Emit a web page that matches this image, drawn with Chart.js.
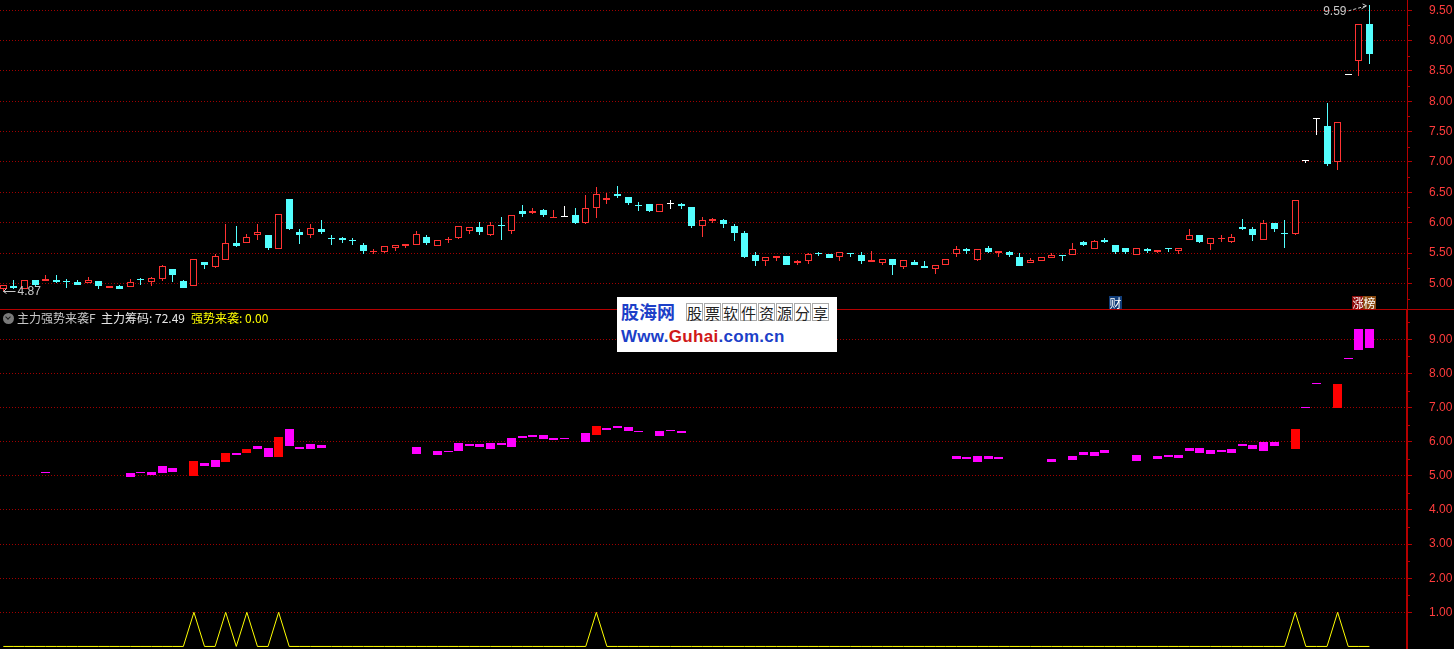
<!DOCTYPE html>
<html lang="zh-CN">
<head>
<meta charset="UTF-8">
<title>主力强势来袭F</title>
<script src="https://cdn.jsdelivr.net/npm/chart.js"></script>
<style>
  html, body { margin: 0; padding: 0; background: #000; }
  body { width: 1454px; height: 649px; position: relative; overflow: hidden; font-family: "Noto Sans CJK SC", "Liberation Sans", sans-serif; }
  #topBox { position: absolute; left: 0; top: 0; width: 1454px; height: 309px; }
  #botBox { position: absolute; left: 0; top: 310px; width: 1454px; height: 339px; }
  #sep { position: absolute; left: 0; top: 309px; width: 1454px; height: 1px; background: #b40000; }
  #hdr span { position: absolute; top: 310px; font-size: 12px; line-height: 16px; white-space: nowrap; }
  #hdr .ico { left: 3px; top: 313px; width: 11px; height: 11px; border-radius: 50%; background: #7a7a7a; }
  #hdr .ico:after { content: ""; position: absolute; left: 3px; top: 2px; width: 3px; height: 3px; border-right: 1.5px solid #1a1a1a; border-bottom: 1.5px solid #1a1a1a; transform: rotate(45deg); }
  #hdr .t1 { left: 17px; color: #c8c8c8; }
  #hdr .t2 { left: 101px; color: #e6e6e6; }
  #hdr .t3 { left: 191px; color: #ffff00; }
  #wm { position: absolute; left: 617px; top: 297px; width: 220px; height: 55px; background: #fff; }
  #wm .logo { position: absolute; left: 4px; top: 3px; font: bold 18px "Noto Sans CJK SC", sans-serif; color: #1c3fc8; line-height: 22px; }
  #wm .boxes { position: absolute; left: 69px; top: 6px; display: flex; }
  #wm .boxes i { font-style: normal; display: block; width: 17px; height: 18px; margin-right: 1px; border: 1px solid #aaa; font-size: 15px; line-height: 18px; text-align: center; color: #222; box-sizing: border-box; }
  #wm .url { position: absolute; left: 4px; top: 29px; font: bold 17px "Liberation Sans", Arial, sans-serif; color: #1c3fc8; line-height: 22px; letter-spacing: 0.3px; }
  #wm .url b { color: #d01818; }
</style>
</head>
<body>
<div id="topBox"><canvas id="kline"></canvas></div>
<div id="sep"></div>
<div id="botBox"><canvas id="chips"></canvas></div>
<div id="hdr">
  <span class="ico"></span><span class="t1">主力强势来袭F</span><span class="t2">主力筹码: 72.49</span><span class="t3">强势来袭: 0.00</span>
</div>
<div id="wm">
  <span class="logo">股海网</span>
  <span class="boxes"><i>股</i><i>票</i><i>软</i><i>件</i><i>资</i><i>源</i><i>分</i><i>享</i></span>
  <span class="url">Www.<b>Guhai</b>.com.cn</span>
</div>
<script>
// daily candles, index 0..129 (left to right)
const OPEN = [
  4.91,4.96,4.90,5.05,5.04,5.06,5.04,5.02,5.00,5.04,
  4.92,4.95,4.94,5.07,5.02,5.07,5.24,5.04,4.96,5.35,
  5.27,5.39,5.66,5.67,5.79,5.80,5.57,6.39,5.85,5.80,
  5.90,5.74,5.75,5.70,5.64,5.51,5.52,5.59,5.62,5.64,
  5.77,5.61,5.71,5.74,5.87,5.93,5.80,5.95,5.86,6.19,
  6.16,6.21,6.07,6.09,6.13,6.00,6.24,6.38,6.47,6.43,
  6.29,6.31,6.18,6.31,6.30,6.26,5.94,6.03,6.04,5.94,
  5.83,5.47,5.36,5.41,5.45,5.33,5.37,5.49,5.48,5.43,
  5.50,5.46,5.35,5.34,5.40,5.27,5.35,5.29,5.24,5.31,
  5.49,5.56,5.39,5.58,5.50,5.52,5.43,5.33,5.37,5.41,
  5.46,5.46,5.68,5.57,5.72,5.63,5.58,5.46,5.56,5.51,
  5.59,5.54,5.72,5.80,5.65,5.73,5.68,5.93,5.90,5.72,
  5.99,5.83,5.82,7.02,7.71,7.60,7.00,8.43,8.67,9.27
];
const CLOSE = [
  4.97,4.93,5.05,4.97,5.07,5.03,5.03,4.98,5.05,4.96,
  4.95,4.91,5.03,5.06,5.08,5.28,5.13,4.93,5.40,5.30,
  5.45,5.66,5.62,5.77,5.84,5.59,6.14,5.90,5.80,5.91,
  5.84,5.73,5.72,5.69,5.53,5.54,5.61,5.63,5.65,5.82,
  5.66,5.72,5.72,5.95,5.93,5.85,5.96,5.94,6.12,6.15,
  6.20,6.12,6.09,6.09,6.00,6.24,6.47,6.41,6.44,6.33,
  6.28,6.20,6.30,6.31,6.27,5.95,6.04,6.06,5.98,5.83,
  5.44,5.37,5.43,5.45,5.31,5.36,5.48,5.48,5.42,5.52,
  5.48,5.37,5.38,5.40,5.31,5.38,5.31,5.26,5.30,5.40,
  5.57,5.53,5.57,5.52,5.53,5.46,5.29,5.38,5.44,5.47,
  5.45,5.57,5.64,5.69,5.68,5.52,5.52,5.58,5.53,5.55,
  5.57,5.59,5.80,5.68,5.74,5.74,5.77,5.90,5.80,5.99,
  5.90,5.82,6.37,7.02,7.71,6.96,7.66,8.43,9.27,8.78
];
const HIGH = [
  4.98,5.05,5.05,5.05,5.14,5.13,5.07,5.05,5.10,5.04,
  4.95,4.97,5.07,5.09,5.11,5.31,5.24,5.06,5.40,5.35,
  5.48,5.98,5.95,5.82,5.98,5.80,6.14,6.39,5.90,5.98,
  6.04,5.79,5.77,5.75,5.66,5.57,5.61,5.63,5.65,5.86,
  5.80,5.72,5.77,5.95,5.93,6.01,6.01,6.10,6.12,6.29,
  6.24,6.22,6.21,6.28,6.24,6.46,6.59,6.49,6.60,6.43,
  6.34,6.31,6.30,6.37,6.33,6.26,6.10,6.07,6.06,5.98,
  5.86,5.52,5.43,5.45,5.45,5.38,5.50,5.52,5.48,5.52,
  5.50,5.51,5.54,5.40,5.40,5.38,5.38,5.37,5.30,5.40,
  5.62,5.58,5.57,5.62,5.53,5.54,5.50,5.42,5.44,5.50,
  5.46,5.66,5.70,5.71,5.74,5.63,5.58,5.58,5.58,5.55,
  5.59,5.59,5.90,5.80,5.74,5.80,5.82,6.06,5.93,6.04,
  5.99,6.04,6.37,7.02,7.71,7.98,7.66,8.43,9.27,9.59
];
const LOW = [
  4.87,4.90,4.90,4.95,5.04,5.01,4.93,4.98,5.00,4.91,
  4.92,4.91,4.94,4.98,4.96,5.04,5.02,4.93,4.96,5.24,
  5.25,5.39,5.60,5.67,5.71,5.55,5.57,5.88,5.65,5.75,
  5.82,5.63,5.66,5.64,5.48,5.48,5.50,5.54,5.59,5.64,
  5.64,5.61,5.66,5.73,5.82,5.80,5.78,5.72,5.82,6.10,
  6.14,6.10,6.07,6.09,5.97,5.98,6.08,6.31,6.41,6.29,
  6.20,6.18,6.18,6.23,6.23,5.92,5.76,6.00,5.92,5.70,
  5.41,5.29,5.29,5.36,5.31,5.31,5.32,5.45,5.41,5.37,
  5.44,5.32,5.35,5.31,5.14,5.24,5.31,5.25,5.16,5.31,
  5.44,5.49,5.36,5.50,5.44,5.44,5.29,5.33,5.37,5.41,
  5.36,5.46,5.62,5.57,5.66,5.49,5.49,5.46,5.50,5.50,
  5.52,5.49,5.72,5.66,5.55,5.68,5.66,5.88,5.70,5.72,
  5.85,5.58,5.80,6.98,7.45,6.94,6.86,8.43,8.41,8.61
];

// 主力筹码 bars (only on the days where they are drawn)
const CHIP_DAYS = [
  4,12,13,14,15,16,
  18,19,20,21,22,23,24,25,26,27,28,29,30,
  39,41,42,43,44,45,46,47,48,49,50,51,52,53,
  55,56,57,58,59,60, 62,63,64,
  90,91,92,93,94, 99, 101,102,103,104, 107,
  109,110,111,112,113,114,115,116,117,118,119,120,
  122,123,124, 126,127,128,129
];
const CHIP_LOW = [
  5.08,4.96,5.07,5.03,5.07,5.12,
  4.98,5.30,5.27,5.41,5.61,5.67,5.78,5.55,5.55,5.87,5.78,5.78,5.81,
  5.64,5.61,5.70,5.72,5.87,5.84,5.78,5.90,5.84,6.12,6.15,6.07,6.04,6.07,
  5.98,6.21,6.35,6.41,6.30,6.27, 6.18,6.30,6.24,
  5.50,5.50,5.41,5.50,5.50, 5.41, 5.47,5.61,5.58,5.67, 5.44,
  5.50,5.55,5.52,5.72,5.67,5.64,5.70,5.67,5.87,5.78,5.72,5.87,
  5.80,7.00,7.70, 6.98,8.43,8.70,8.75
];
const CHIP_HIGH = [
  5.10,5.07,5.10,5.12,5.30,5.24,
  5.44,5.38,5.47,5.67,5.67,5.78,5.87,5.81,6.15,6.38,5.84,5.92,5.90,
  5.84,5.72,5.72,5.95,5.92,5.92,5.95,5.95,6.12,6.18,6.21,6.21,6.10,6.10,
  6.24,6.47,6.41,6.47,6.44,6.30, 6.30,6.32,6.30,
  5.58,5.55,5.58,5.58,5.55, 5.50, 5.58,5.70,5.70,5.75, 5.61,
  5.58,5.61,5.61,5.81,5.81,5.75,5.75,5.78,5.92,5.90,5.98,5.98,
  6.36,7.01,7.71, 7.69,8.44,9.30,9.30
];

// 强势来袭 signal, one value per day
const SIGNAL = [
  0,0,0,0,0,0,0,0,0,0,
  0,0,0,0,0,0,0,0,1,0,
  0,1,0,1,0,0,1,0,0,0,
  0,0,0,0,0,0,0,0,0,0,
  0,0,0,0,0,0,0,0,0,0,
  0,0,0,0,0,0,1,0,0,0,
  0,0,0,0,0,0,0,0,0,0,
  0,0,0,0,0,0,0,0,0,0,
  0,0,0,0,0,0,0,0,0,0,
  0,0,0,0,0,0,0,0,0,0,
  0,0,0,0,0,0,0,0,0,0,
  0,0,0,0,0,0,0,0,0,0,
  0,0,1,0,0,0,1,0,0,0
];

const PRICE_TICKS = [5.00, 5.50, 6.00, 6.50, 7.00, 7.50, 8.00, 8.50, 9.00, 9.50];
const PRICE_MINOR = [4.75, 5.25, 5.75, 6.25, 6.75, 7.25, 7.75, 8.25, 8.75, 9.25];
const CHIP_TICKS = [1, 2, 3, 4, 5, 6, 7, 8, 9];
const CHIP_MINOR = [1.5, 2.5, 3.5, 4.5, 5.5, 6.5, 7.5, 8.5, 9.5];

// event badges under the candles
const BADGES = [
  { day: 105, text: '财', bg: '#103c78' },
  { day: 128, text: '涨', bg: '#8c0a0a' },
  { day: 129, text: '榜', bg: '#8a4a10' }
];

const RED = '#ff3232';
const CYAN = '#54ffff';
const GRID_RED = '#a00000';
const AXIS_RED = '#b40000';
const LABEL_RED = '#ff3c3c';

const DAYS = OPEN.map((_, i) => i);
const X_MIN = -0.312, X_MAX = 132.55;

function candleColor(i) {
  if (CLOSE[i] > OPEN[i]) return RED;
  if (CLOSE[i] < OPEN[i]) return CYAN;
  return '#ffffff';
}
function bodyFill(i) {
  return CLOSE[i] < OPEN[i] ? CYAN : '#000000';
}

// keep bars on whole pixels so thin lines stay crisp
const snapPlugin = {
  id: 'snap',
  beforeDatasetsDraw(chart) {
    chart.data.datasets.forEach((ds, i) => {
      const meta = chart.getDatasetMeta(i);
      if (meta.type !== 'bar') return;
      meta.data.forEach(el => {
        el.x = Math.floor(el.x) + 0.5;
        el.y = Math.round(el.y);
        el.base = Math.round(el.base);
      });
    });
  }
};

const minorTicks = {
  id: 'minorTicks',
  afterDraw(chart) {
    const y = chart.scales.y, ctx = chart.ctx, right = chart.chartArea.right;
    ctx.save();
    ctx.strokeStyle = AXIS_RED;
    ctx.lineWidth = 1;
    y.ticks.forEach(t => {
      if (!t.minor) return;
      const py = Math.round(y.getPixelForValue(t.value)) + 0.5;
      ctx.beginPath();
      ctx.moveTo(right, py);
      ctx.lineTo(right + 3, py);
      ctx.stroke();
    });
    ctx.restore();
  }
};

function yAxis(min, max, major, minor, borderWidth) {
  return {
    position: 'right',
    min: min, max: max,
    bounds: 'data',
    afterBuildTicks: s => {
      s.ticks = major.map(v => ({ value: v }))
        .concat(minor.filter(v => v > min && v < max).map(v => ({ value: v, minor: true })))
        .sort((a, b) => a.value - b.value);
    },
    afterFit: s => { s.width = 47; s.paddingTop = 0; s.paddingBottom = 0; },
    grid: {
      color: c => (c.tick && c.tick.minor) ? 'rgba(0,0,0,0)' : GRID_RED,
      lineWidth: 1,
      drawTicks: true,
      tickLength: 5,
      tickColor: c => (c.tick && c.tick.minor) ? 'rgba(0,0,0,0)' : AXIS_RED,
      tickWidth: 1
    },
    border: { display: true, color: AXIS_RED, width: borderWidth, dash: [1, 2] },
    ticks: {
      autoSkip: false,
      color: LABEL_RED,
      padding: 17,
      font: { family: '"Liberation Sans", Arial, sans-serif', size: 12 },
      callback: (v, i, ticks) => ticks[i].minor ? '' : Number(v).toFixed(2)
    }
  };
}

const xAxis = { type: 'linear', min: X_MIN, max: X_MAX, offset: false, display: false };

const marksPlugin = {
  id: 'marks',
  afterDatasetsDraw(chart) {
    const { ctx, scales: { x, y } } = chart;
    let hi = 0, lo = 0;
    HIGH.forEach((v, i) => { if (v > HIGH[hi]) hi = i; });
    LOW.forEach((v, i) => { if (v < LOW[lo]) lo = i; });
    ctx.save();
    ctx.font = '12px "Liberation Sans", Arial, sans-serif';
    ctx.fillStyle = '#c8c8c8';
    ctx.strokeStyle = '#c8c8c8';
    ctx.lineWidth = 1;
    ctx.textBaseline = 'middle';

    // highest price
    const hx = Math.floor(x.getPixelForValue(hi)) + 0.5, hy = y.getPixelForValue(HIGH[hi]);
    ctx.textAlign = 'right';
    ctx.fillText(HIGH[hi].toFixed(2), hx - 23, hy + 7);
    ctx.setLineDash([3, 2]);
    ctx.beginPath(); ctx.moveTo(hx - 21, hy + 6); ctx.lineTo(hx - 3, hy + 1); ctx.stroke();
    ctx.setLineDash([]);
    ctx.beginPath(); ctx.moveTo(hx - 7, hy - 1); ctx.lineTo(hx - 3, hy + 1); ctx.lineTo(hx - 8, hy + 4); ctx.stroke();

    // lowest price
    const lx = Math.floor(x.getPixelForValue(lo)) + 0.5, ly = Math.round(y.getPixelForValue(LOW[lo])) + 0.5;
    ctx.beginPath(); ctx.moveTo(lx, ly); ctx.lineTo(lx + 12, ly); ctx.stroke();
    ctx.beginPath(); ctx.moveTo(lx + 3, ly - 3); ctx.lineTo(lx, ly); ctx.lineTo(lx + 3, ly + 2); ctx.stroke();
    ctx.textAlign = 'left';
    ctx.fillText(LOW[lo].toFixed(2), lx + 14, ly);

    // badges
    ctx.font = '12px "Noto Sans CJK SC", sans-serif';
    ctx.textAlign = 'center';
    BADGES.forEach(b => {
      const bx = Math.floor(x.getPixelForValue(b.day));
      ctx.fillStyle = b.bg;
      ctx.fillRect(bx - 6, chart.chartArea.bottom - 13, 13, 13);
      ctx.fillStyle = '#ffffff';
      ctx.fillText(b.text, bx + 0.5, chart.chartArea.bottom - 6);
    });
    ctx.restore();
  }
};

const common = {
  responsive: true,
  maintainAspectRatio: false,
  animation: false,
  events: [],
  layout: { padding: 0 },
  plugins: { legend: { display: false }, tooltip: { enabled: false } }
};

new Chart(document.getElementById('kline'), {
  type: 'bar',
  data: {
    datasets: [
      {
        label: '实体',
        data: DAYS.map(i => ({ x: i, y: [Math.min(OPEN[i], CLOSE[i]), Math.max(OPEN[i], CLOSE[i])] })),
        backgroundColor: c => bodyFill(c.dataIndex),
        borderColor: c => candleColor(c.dataIndex),
        borderWidth: 1,
        borderSkipped: false,
        barThickness: 7,
        minBarLength: 1,
        grouped: false,
        inflateAmount: 0,
        order: 0
      },
      {
        label: '影线',
        data: DAYS.map(i => ({ x: i, y: [LOW[i], HIGH[i]] })),
        backgroundColor: c => candleColor(c.dataIndex),
        borderWidth: 0,
        barThickness: 1,
        grouped: false,
        inflateAmount: 0,
        order: 1
      }
    ]
  },
  options: Object.assign({}, common, {
    scales: { x: xAxis, y: yAxis(4.577, 9.670, PRICE_TICKS, PRICE_MINOR, 1) }
  }),
  plugins: [snapPlugin, minorTicks, marksPlugin]
});

new Chart(document.getElementById('chips'), {
  type: 'bar',
  data: {
    datasets: [
      {
        type: 'line',
        label: '强势来袭',
        data: DAYS.map(i => ({ x: i, y: SIGNAL[i] })),
        borderColor: '#ffff00',
        borderWidth: 1,
        pointRadius: 0,
        tension: 0,
        order: 0
      },
      {
        label: '主力筹码',
        data: CHIP_DAYS.map((d, k) => ({ x: d, y: [CHIP_LOW[k], CHIP_HIGH[k]] })),
        backgroundColor: c => SIGNAL[CHIP_DAYS[c.dataIndex]] ? '#ff0000' : '#ff00ff',
        borderWidth: 0,
        barThickness: 9,
        minBarLength: 1,
        grouped: false,
        inflateAmount: 0,
        order: 1
      }
    ]
  },
  options: Object.assign({}, common, {
    scales: { x: xAxis, y: yAxis(-0.075, 9.859, CHIP_TICKS, CHIP_MINOR, 2) }
  }),
  plugins: [snapPlugin, minorTicks]
});
</script>
</body>
</html>
